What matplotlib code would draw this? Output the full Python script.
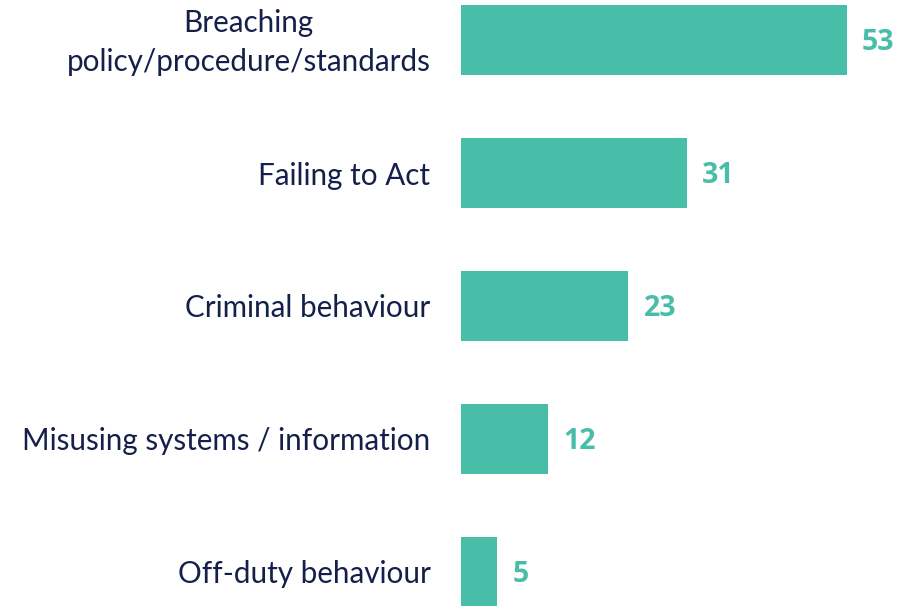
import matplotlib
matplotlib.use("Agg")
import matplotlib.pyplot as plt
import matplotlib.transforms as mtransforms

categories = ["Breaching\npolicy/procedure/standards", "Failing to Act",
              "Criminal behaviour", "Misusing systems / information",
              "Off-duty behaviour"]
counts = [53, 31, 23, 12, 5]

bar_color = "#48BEA9"
text_color = "#14204A"

plt.rcParams['font.family'] = ['Lato', 'DejaVu Sans']

fig = plt.figure(figsize=(9.21, 6.06), dpi=100)
ax = fig.add_axes([461 / 921, 0, 460 / 921, 1])

pos = list(range(len(categories)))
ax.barh(pos, counts, height=0.526, color=bar_color)
ax.set_xlim(0, 63.2)
ax.set_ylim(4.256, -0.301)

for p, v in zip(pos, counts):
    ax.annotate(str(v), (v, p), xytext=(11, -2), textcoords="offset points",
                ha="left", va="center", fontsize=20.5, fontweight="bold",
                family=["Open Sans", "DejaVu Sans"], color=bar_color)

ax.set_yticks(pos)
ax.set_yticklabels(categories, fontsize=21.3, color=text_color,
                   multialignment="center", linespacing=1.5)
ax.tick_params(axis="y", length=0, pad=22)
ax.set_xticks([])
for s in ax.spines.values():
    s.set_visible(False)

# nudge the two-line label up a little
lab = ax.get_yticklabels()[0]
lab.set_transform(lab.get_transform() +
                  mtransforms.ScaledTranslation(0, 6 / 100, fig.dpi_scale_trans))

fig.savefig("out.png", dpi=100)
